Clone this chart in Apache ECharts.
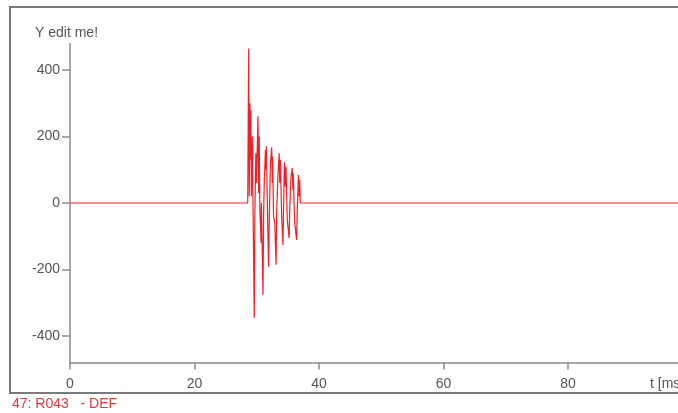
<!DOCTYPE html>
<html>
<head>
<meta charset="utf-8">
<script src="https://cdn.jsdelivr.net/npm/echarts@6/dist/echarts.min.js"></script>
<style>
  html, body { margin: 0; padding: 0; background: #fff; }
  #chart { width: 678px; height: 413px; }
</style>
</head>
<body>
<div id="chart"></div>
<script>
// Recorded trace: time in ms, amplitude in the Y unit
const timeMs = [
  0, 28.55, 28.7, 28.8, 28.9, 29.0, 29.05, 29.15, 29.3, 29.4, 29.6, 29.7,
  29.85, 29.95, 30.2, 30.3, 30.4, 30.5, 30.7, 30.75, 31.0, 31.1, 31.2, 31.4,
  31.5, 31.55, 31.7, 31.9, 32.0, 32.2, 32.4, 32.5, 32.55, 32.7, 32.9, 33.1,
  33.2, 33.4, 33.6, 33.7, 33.8, 34.0, 34.2, 34.3, 34.45, 34.6, 34.7, 34.9,
  35.2, 35.3, 35.5, 35.7, 35.8, 35.85, 36.1, 36.4, 36.5, 36.7, 36.8, 36.9,
  37.0, 37.1, 100
];
const amplitude = [
  0, 0, 465, 20, 300, 130, 280, 20, 200, 0, -345, -30,
  150, 60, 261, 30, 200, -20, -120, 0, -276, -40, 60, 160,
  100, 171, 0, -192, -60, 120, 168, 60, 140, -40, -60, -186,
  -30, 80, 150, 60, 130, -40, -126, -20, 123, 50, 110, -50,
  -105, -20, 80, 105, 40, 90, -60, -111, -30, 84, 20, 70,
  0, 0, 0
];
const yTicks = [-400, -200, 0, 200, 400];
const xTicks = [0, 20, 40, 60, 80];
const yTitle = 'Y edit me!';
const xTitle = 't [ms]';
const footer = '47: R043   - DEF';

const series = timeMs.map((t, i) => [t, amplitude[i]]);
const font = '"Liberation Sans", Arial, sans-serif';
const fontSize = 14;
const textGrey = '#555';
const axisGrey = '#8a8a8a';

const chart = echarts.init(document.getElementById('chart'), null, { renderer: 'canvas' });
chart.setOption({
  animation: false,
  backgroundColor: '#ffffff',
  grid: { left: 70, top: 43.5, width: 622.5, height: 319, outerBoundsMode: 'none', containLabel: false },
  xAxis: {
    type: 'value',
    min: 0,
    max: 100,
    axisLine: { show: true, onZero: false, lineStyle: { color: axisGrey, width: 1.5 } },
    axisTick: { show: true, length: 7, customValues: xTicks, lineStyle: { color: axisGrey, width: 1.5 } },
    axisLabel: { color: textGrey, fontSize: fontSize, fontFamily: font, margin: 15, customValues: xTicks },
    splitLine: { show: false }
  },
  yAxis: {
    type: 'value',
    min: -480,
    max: 480,
    axisLine: { show: true, onZero: false, lineStyle: { color: axisGrey, width: 1.5 } },
    axisTick: { show: true, length: 8, customValues: yTicks, lineStyle: { color: axisGrey, width: 1.5 } },
    axisLabel: { color: textGrey, fontSize: fontSize, fontFamily: font, margin: 10, customValues: yTicks },
    splitLine: { show: false }
  },
  graphic: [
    {
      type: 'rect',
      shape: { x: 10, y: 7, width: 720, height: 386 },
      style: { fill: 'none', stroke: '#7a7a7a', lineWidth: 2 },
      silent: true
    },
    {
      type: 'text',
      left: 35, top: 26,
      style: { text: yTitle, fill: textGrey, font: fontSize + 'px ' + font }
    },
    {
      type: 'text',
      left: 650, top: 377,
      style: { text: xTitle, fill: textGrey, font: fontSize + 'px ' + font }
    },
    {
      type: 'text',
      left: 12, top: 397,
      style: { text: footer, fill: '#e3363e', font: fontSize + 'px ' + font }
    }
  ],
  series: [{
    type: 'line',
    data: series,
    showSymbol: false,
    lineStyle: { color: '#f02028', width: 1.2 },
    z: 10
  }]
});
</script>
</body>
</html>
